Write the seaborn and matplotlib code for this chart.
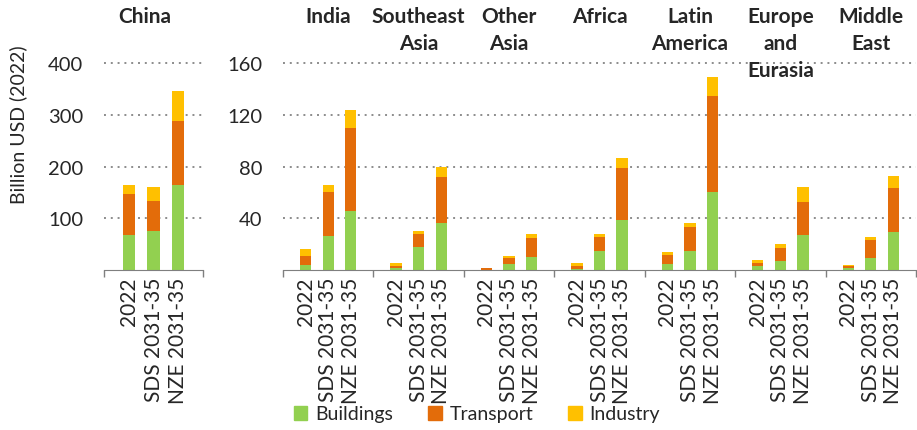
import matplotlib.pyplot as plt
import matplotlib.transforms as mtransforms
from matplotlib.patches import Patch
import pandas as pd
import seaborn as sns

sns.set_style("white")
plt.rcParams['font.family'] = ['Lato', 'DejaVu Sans']

scenarios = ["2022", "SDS 2031-35", "NZE 2031-35"]
regions = ["China", "India", "Southeast\nAsia", "Other\nAsia", "Africa",
           "Latin\nAmerica", "Europe\nand\nEurasia", "Middle\nEast"]

# billion USD (2022), one row per region: 2022 / SDS / NZE
buildings = [[68.5, 75, 164], [3.5, 26, 46], [1.3, 18, 36], [0.3, 4.6, 10],
             [1, 15, 39], [4.4, 15, 60], [3.3, 7.2, 27], [1.5, 9, 29.4]]
transport = [[79.5, 59.5, 125], [7.2, 34, 64], [1.5, 9.5, 36], [0.9, 5, 15],
             [2, 10.3, 40], [7.2, 18, 74.5], [2.4, 10, 26], [1.4, 14.5, 34.3]]
industry = [[16.5, 27, 57], [5.5, 5.5, 14], [2.5, 3, 7.5], [0.4, 1.5, 2.8],
            [2.2, 2.4, 7.5], [2.6, 3, 15], [2.3, 2.8, 11.3], [0.7, 2, 8.8]]

colors = {"Buildings": "#92D050", "Transport": "#E36C0A", "Industry": "#FFC000"}

rows = []
for g, reg in enumerate(regions):
    grp = 0 if g == 0 else g - 1
    for j, sc in enumerate(scenarios):
        b, t, i = buildings[g][j], transport[g][j], industry[g][j]
        rows.append({"region": reg, "panel": "china" if g == 0 else "rest",
                     "pos": 4 * grp + 1 + j, "scenario": sc,
                     "Buildings": b, "Transport": b + t, "Industry": b + t + i})
df = pd.DataFrame(rows)

fig = plt.figure(figsize=(9.17, 4.31), dpi=100)
bottom, height = 1 - 271 / 431, 0.5095
ax1 = fig.add_axes([104 / 917, bottom, 99 / 917, height])
ax2 = fig.add_axes([283 / 917, bottom, 633 / 917, height])

for ax, panel, ymax, yticks in [(ax1, "china", 425, [100, 200, 300, 400]),
                                 (ax2, "rest", 170, [40, 80, 120, 160])]:
    sub = df[df["panel"] == panel]
    for layer in ["Industry", "Transport", "Buildings"]:
        sns.barplot(data=sub, x="pos", y=layer, native_scale=True, width=0.5,
                    color=colors[layer], saturation=1, errorbar=None,
                    linewidth=0, ax=ax)
    ngroups = sub["region"].nunique()
    ax.set_xlim(0, 4 * ngroups)
    ax.set_ylim(0, ymax)
    ax.set_yticks(yticks)
    ax.set_xticks(sub["pos"].tolist())
    ax.set_xticklabels(sub["scenario"].tolist(), rotation=90)
    ax.set_xticks([4 * k for k in range(ngroups + 1)], minor=True)
    ax.tick_params(axis="x", which="major", length=0, pad=5, labelsize=15)
    ax.tick_params(axis="x", which="minor", length=5, width=1, color="#7f7f7f",
                   direction="out", bottom=True)
    ax.tick_params(axis="y", length=0, pad=15, labelsize=14.5)
    ax.set_xlabel("")
    ax.set_ylabel("")
    ax.yaxis.grid(True, linestyle=(0, (1, 2.5)), color="#8c8c8c", linewidth=1.4)
    ax.set_axisbelow(True)
    for s in ["top", "right", "left"]:
        ax.spines[s].set_visible(False)
    ax.spines["bottom"].set_color("#7f7f7f")

    trans = mtransforms.blended_transform_factory(ax.transData, fig.transFigure)
    for k, reg in enumerate(sub["region"].unique()):
        xc = 4 * k + 2 if panel == "rest" else 1.65
        ax.text(xc, 1 - 7 / 431, reg, transform=trans, ha="center", va="top",
                fontsize=15, fontweight="bold", linespacing=1.45)

fig.text(18 / 917, 1 - 125 / 431, "Billion USD (2022)", rotation=90,
         ha="center", va="center", fontsize=14)

handles = [Patch(color=colors[k]) for k in ["Buildings", "Transport", "Industry"]]
fig.legend(handles, ["Buildings", "Transport", "Industry"], loc="center",
           bbox_to_anchor=(477 / 917, 1 - 415 / 431), ncol=3, frameon=False,
           handlelength=0.7, handleheight=0.7, handletextpad=0.4,
           columnspacing=1.8, fontsize=14)

fig.savefig("out.png", dpi=100)
